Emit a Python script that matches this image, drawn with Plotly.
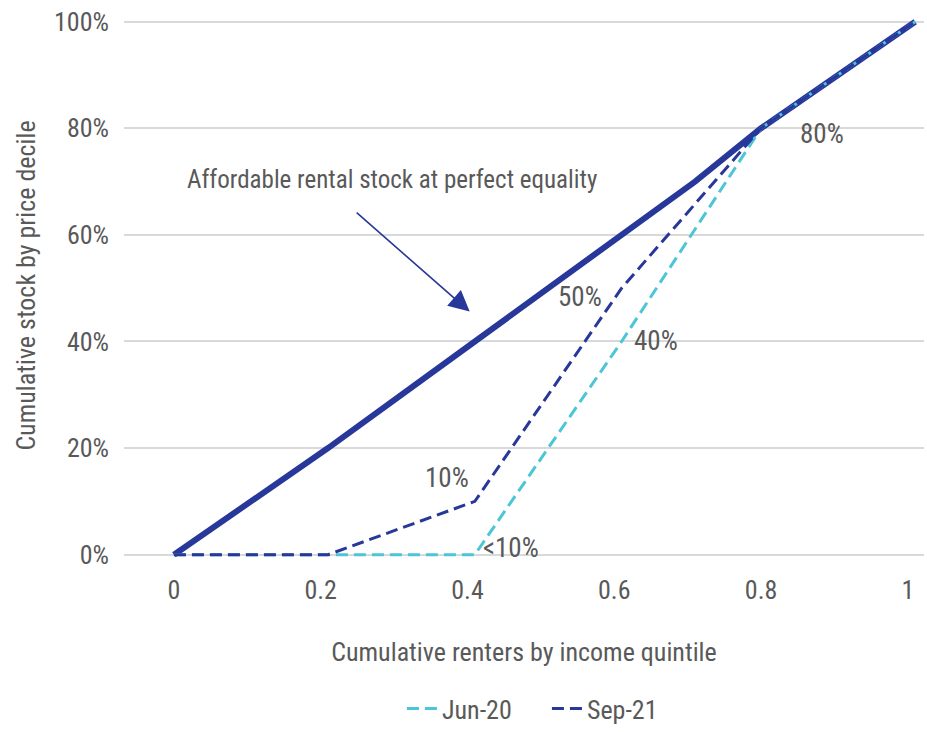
import plotly.graph_objects as go

# Cumulative renters by income quintile (x) and cumulative affordable stock (y)
equality_x = [0.0, 0.21, 0.41, 0.61, 0.71, 0.80, 1.01]
equality_y = [0.0, 0.20, 0.40, 0.60, 0.70, 0.80, 1.00]

quintile_x = [0.0, 0.21, 0.41, 0.61, 0.80, 1.01]
jun20_y = [0.0, 0.0, 0.0, 0.40, 0.80, 1.00]
sep21_y = [0.0, 0.0, 0.10, 0.50, 0.80, 1.00]

y_ticks = [0, 0.2, 0.4, 0.6, 0.8, 1.0]
x_ticks = [0, 0.2, 0.4, 0.6, 0.8, 1.0]

NAVY = "#27379A"
CYAN = "#4CC5D6"
GREY = "#595959"
FONT = "Liberation Sans Narrow, Roboto Condensed, Arial Narrow, sans-serif"
DASH = "12px,6px"

fig = go.Figure()

fig.add_trace(go.Scatter(
    x=equality_x, y=equality_y, mode="lines", showlegend=False,
    line=dict(color=NAVY, width=6), hoverinfo="skip",
))
fig.add_trace(go.Scatter(
    x=quintile_x, y=jun20_y, mode="lines", name="Jun-20",
    line=dict(color=CYAN, width=3, dash=DASH),
))
fig.add_trace(go.Scatter(
    x=quintile_x, y=sep21_y, mode="lines", name="Sep-21",
    line=dict(color=NAVY, width=3, dash=DASH),
))

def pct(v):
    return f"{v * 100:.0f}%"

# Value labels beside the quintile points
labels = [
    ("<10%", 0.419, 0.013, "left"),
    (pct(sep21_y[2]), 0.372, 0.144, "center"),
    (pct(sep21_y[3]), 0.553, 0.484, "center"),
    (pct(jun20_y[3]), 0.657, 0.400, "center"),
    (pct(jun20_y[4]), 0.883, 0.790, "center"),
]
for text, lx, ly, anchor in labels:
    fig.add_annotation(x=lx, y=ly, text=text, showarrow=False,
                       xanchor=anchor, yanchor="middle",
                       font=dict(size=27, color=GREY, family=FONT))

fig.add_annotation(x=0.015, y=0.703, text="Affordable rental stock at perfect equality",
                   showarrow=False, xanchor="left", yanchor="middle",
                   font=dict(size=25, color=GREY, family=FONT))
fig.add_annotation(x=0.403, y=0.456, ax=0.247, ay=0.644, axref="x", ayref="y",
                   text="", showarrow=True, arrowhead=2, arrowsize=2.6,
                   arrowwidth=1.6, arrowcolor=NAVY)

fig.update_layout(
    width=927, height=732,
    margin=dict(l=124, r=3, t=11, b=172),
    paper_bgcolor="white", plot_bgcolor="white",
    font=dict(family=FONT, color=GREY, size=26),
    showlegend=True,
    legend=dict(orientation="h", xref="container", yref="container",
                x=0.59, y=0.032, xanchor="center", yanchor="middle",
                entrywidth=100, font=dict(size=26, color=GREY, family=FONT)),
    xaxis=dict(
        range=[-0.068, 1.022], tickvals=x_ticks,
        ticktext=[f"{v:g}" for v in x_ticks],
        showgrid=False, zeroline=False, showline=False, ticks="",
        tickfont=dict(size=26, color=GREY), ticklabelstandoff=12,
        automargin=False,
        title=dict(text="Cumulative renters by income quintile", standoff=38,
                   font=dict(size=26, color=GREY)),
    ),
    yaxis=dict(
        range=[-0.01, 1.02], tickvals=y_ticks,
        ticktext=[pct(v) for v in y_ticks],
        showgrid=True, gridcolor="#D9D9D9", gridwidth=1.5,
        zeroline=False, showline=False, ticks="",
        tickfont=dict(size=26, color=GREY), ticklabelstandoff=14,
        automargin=False,
        title=dict(text="Cumulative stock by price decile", standoff=10,
                   font=dict(size=26, color=GREY)),
    ),
)

fig.write_html("out.html")
